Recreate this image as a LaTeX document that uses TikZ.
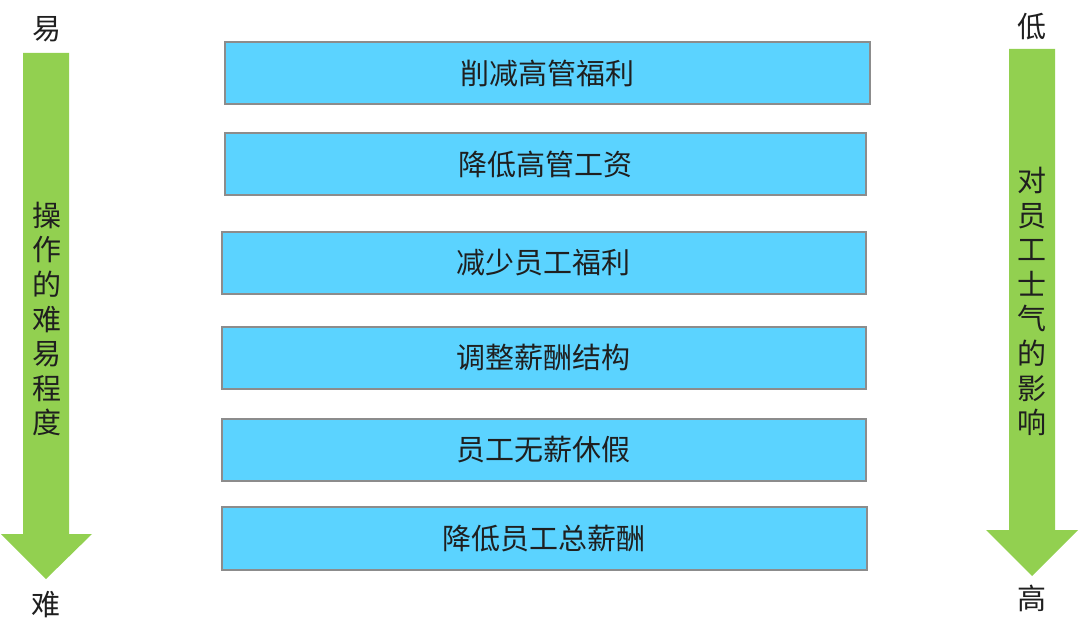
\documentclass[tikz,border=0pt]{standalone}
\usepackage{fontspec}
\setmainfont{Noto Sans CJK SC}
\begin{document}
\begin{tikzpicture}[x=1pt,y=-1pt,
  box/.style={draw=black!45,line width=1.5pt,fill=boxcyan,inner sep=0pt,outer sep=0pt},
  boxtext/.style={text=black!88,font=\fontsize{29}{32}\selectfont},
  endlabel/.style={text=black!88,font=\fontsize{29}{32}\selectfont},
  vtext/.style={text=black!88,align=center,font=\fontsize{29}{34.6}\selectfont},
  greenarrow/.style={fill=arrowgreen,draw=none}]
\definecolor{boxcyan}{HTML}{5BD3FF}
\definecolor{arrowgreen}{HTML}{92D050}
\useasboundingbox (0,0) rectangle (1080,642);
\fill[white] (0,0) rectangle (1080,642);
% left arrow
\fill[greenarrow] (23,53) -- (69,53) -- (69,534) -- (92,534) -- (46,579) -- (1,534) -- (23,534) -- cycle;
% right arrow
\fill[greenarrow] (1009,49) -- (1055,49) -- (1055,530) -- (1078,530) -- (1032,576) -- (986,530) -- (1009,530) -- cycle;
% boxes
\draw[box] (225,42) rectangle (870,104);
\draw[box] (225,133) rectangle (866,195);
\draw[box] (222,232) rectangle (866,294);
\draw[box] (222,327) rectangle (866,389);
\draw[box] (222,419) rectangle (866,481);
\draw[box] (222,507) rectangle (867,570);
\node[boxtext] (b1) at (547.5,73) {削减高管福利};
\node[boxtext] (b2) at (545.5,164) {降低高管工资};
\node[boxtext] (b3) at (543,263) {减少员工福利};
\node[boxtext] (b4) at (543,358) {调整薪酬结构};
\node[boxtext] (b5) at (543,450) {员工无薪休假};
\node[boxtext] (b6) at (544,538.5) {降低员工总薪酬};
% labels
\node[endlabel] (easy) at (47,29) {易};
\node[endlabel] (hard) at (46,605) {难};
\node[endlabel] (low) at (1032,27) {低};
\node[endlabel] (high) at (1032,598) {高};
\node[vtext] (lt) at (47,319) {操\\作\\的\\难\\易\\程\\度};
\node[vtext] (rt) at (1032,301.5) {对\\员\\工\\士\\气\\的\\影\\响};
\end{tikzpicture}
\end{document}
